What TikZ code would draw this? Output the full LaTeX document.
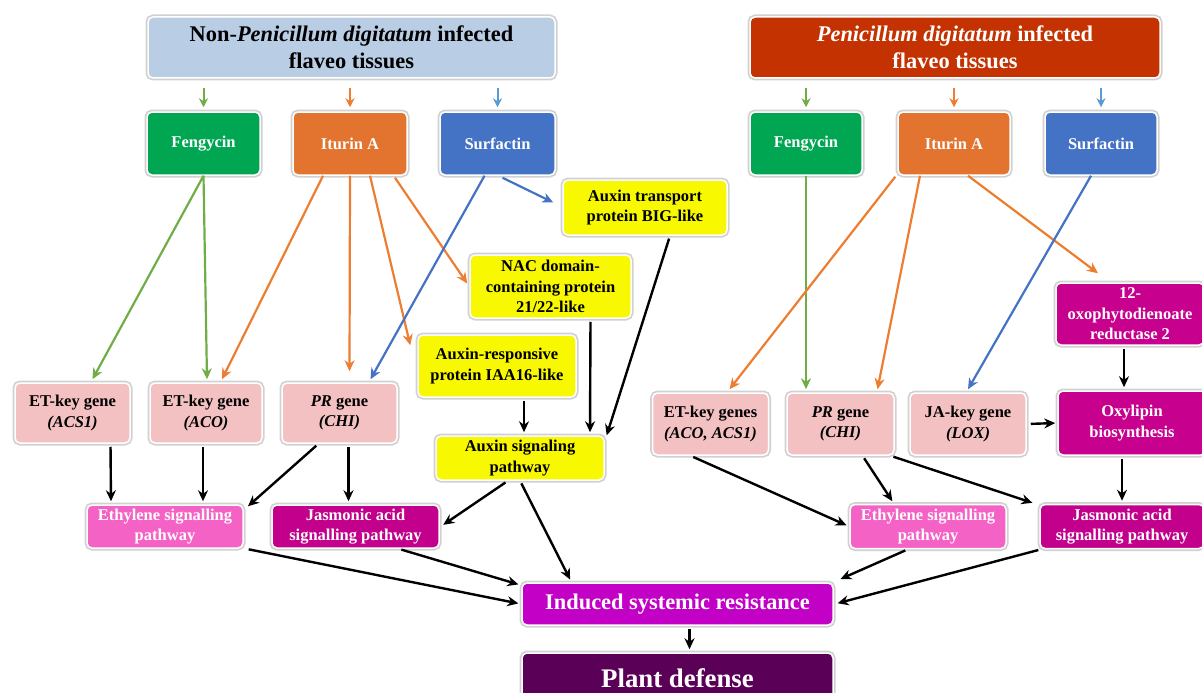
\documentclass[tikz,border=0pt]{standalone}
\usepackage{fontspec}
\setmainfont{Liberation Serif}
\usetikzlibrary{arrows.meta}
\definecolor{hLc}{HTML}{B9CDE5}
\definecolor{hRc}{HTML}{C33200}
\definecolor{fengc}{HTML}{00A651}
\definecolor{iturc}{HTML}{E27430}
\definecolor{surfc}{HTML}{4472C4}
\definecolor{yelc}{HTML}{F8F800}
\definecolor{genec}{HTML}{F4C1C3}
\definecolor{ethc}{HTML}{F562C6}
\definecolor{jac}{HTML}{C3008C}
\definecolor{oxyc}{HTML}{C7008E}
\definecolor{isrc}{HTML}{C300C6}
\definecolor{pdc}{HTML}{5B0057}
\definecolor{agreen}{HTML}{70AD47}
\definecolor{aorange}{HTML}{ED7D31}
\definecolor{ablue}{HTML}{4472C4}
\definecolor{alblue}{HTML}{5B9BD5}
\begin{document}
\begin{tikzpicture}[x=1pt,y=-1pt,
  box/.style={rounded corners=5pt, align=center, inner sep=2pt,
    font=\bfseries\fontsize{16.5}{20.5}\selectfont,
    draw=white, line width=1.5pt,
    preaction={draw=black!18, line width=5pt}},
  hdr/.style={box, font=\bfseries\fontsize{22.4}{27}\selectfont},
  arr/.style={-{Stealth[length=11pt,width=10pt]}, line width=2.4pt},
  blk/.style={arr, black, shorten >=3pt, shorten <=3pt},
  grn/.style={arr, agreen, line width=2.2pt},
  org/.style={arr, aorange, line width=2.2pt},
  blu/.style={arr, ablue, line width=2.2pt},
]
\useasboundingbox (0,0) rectangle (1202,693);

% headers
\node[hdr, fill=hLc, text=black, minimum width=407pt, minimum height=61pt] (hL) at (351.5,47.5)
  {Non-\textit{Penicillum digitatum} infected\\flaveo tissues};
\node[hdr, fill=hRc, text=white, minimum width=410pt, minimum height=61pt] (hR) at (955,47.5)
  {\textit{Penicillum digitatum} infected\\flaveo tissues};

% row 2
\node[box, fill=fengc, text=white, minimum width=113pt, minimum height=63pt] (fenL) at (203.5,143.5) {Fengycin};
\node[box, fill=iturc, text=white, minimum width=114pt, minimum height=63pt] (itL) at (350,143.5) {Iturin A};
\node[box, fill=surfc, text=white, minimum width=115pt, minimum height=63pt] (surL) at (497.5,143.5) {Surfactin};
\node[box, fill=fengc, text=white, minimum width=112pt, minimum height=63pt] (fenR) at (806,143.5) {Fengycin};
\node[box, fill=iturc, text=white, minimum width=112pt, minimum height=63pt] (itR) at (954,143.5) {Iturin A};
\node[box, fill=surfc, text=white, minimum width=112pt, minimum height=63pt] (surR) at (1101,143.5) {Surfactin};

% yellow
\node[box, fill=yelc, text=black, minimum width=164pt, minimum height=55pt] (big) at (645,207.5) {Auxin transport\\protein BIG-like};
\node[box, fill=yelc, text=black, minimum width=161pt, minimum height=63pt] (nac) at (550.5,286.5) {NAC domain-\\containing protein\\21/22-like};
\node[box, fill=yelc, text=black, minimum width=158pt, minimum height=62pt] (iaa) at (497,366) {Auxin-responsive\\protein IAA16-like};
\node[box, fill=yelc, text=black, minimum width=168pt, minimum height=44pt] (aux) at (520,458) {Auxin signaling\\pathway};

% left genes
\node[box, fill=genec, text=black, minimum width=115pt, minimum height=60pt] (acs1) at (72.5,413) {ET-key gene\\\textit{(ACS1)}};
\node[box, fill=genec, text=black, minimum width=112pt, minimum height=60pt] (aco) at (206,413) {ET-key gene\\\textit{(ACO)}};
\node[box, fill=genec, text=black, minimum width=115pt, minimum height=60pt] (chiL) at (339.5,413) {\textit{PR} gene\\\textit{(CHI)}};

\node[box, fill=ethc, text=white, minimum width=156pt, minimum height=43pt] (ethL) at (165,526.5) {Ethylene signalling\\pathway};
\node[box, fill=jac, text=white, minimum width=167pt, minimum height=43pt] (jaL) at (355.5,526.5) {Jasmonic acid\\signalling pathway};

% bottom
\node[box, fill=isrc, text=white, minimum width=311pt, minimum height=42pt, font=\bfseries\fontsize{22.4}{26}\selectfont] (isr) at (677.5,604) {Induced systemic resistance};
\node[box, fill=pdc, text=white, minimum width=311pt, minimum height=50pt, font=\bfseries\fontsize{26.8}{30}\selectfont] (pd) at (677.5,678) {Plant defense};

% right
\node[box, fill=oxyc, text=white, minimum width=148pt, minimum height=62pt] (oxo) at (1130,314) {12-\\oxophytodienoate\\reductase 2};
\node[box, fill=oxyc, text=white, minimum width=148pt, minimum height=64pt] (oxy) at (1132,423) {Oxylipin\\biosynthesis};
\node[box, fill=genec, text=black, minimum width=116pt, minimum height=62pt] (etR) at (710.5,424) {ET-key genes\\\textit{(ACO, ACS1)}};
\node[box, fill=genec, text=black, minimum width=107pt, minimum height=62pt] (chiR) at (840.5,424) {\textit{PR} gene\\\textit{(CHI)}};
\node[box, fill=genec, text=black, minimum width=116pt, minimum height=62pt] (loxR) at (968,424) {JA-key gene\\\textit{(LOX)}};
\node[box, fill=ethc, text=white, minimum width=156pt, minimum height=44pt] (ethR) at (928,526.5) {Ethylene signalling\\pathway};
\node[box, fill=jac, text=white, minimum width=164pt, minimum height=44pt] (jaR) at (1122,526.5) {Jasmonic acid\\signalling pathway};

% header arrows
\foreach \n/\c in {fenL/agreen, itL/aorange, surL/alblue, fenR/agreen, itR/aorange, surR/alblue}{
  \draw[arr, \c, line width=2pt, -{Stealth[length=9pt,width=9pt]}, shorten <=9pt, shorten >=4pt]
    (\n.north |- hL.south) -- (\n.north);
}

% left colored arrows
\draw[grn] (fenL.south) -- ([xshift=20pt,yshift=3pt]acs1.north);
\draw[grn] (fenL.south) -- ([xshift=1pt,yshift=3pt]aco.north);
\draw[org] ([xshift=-27pt]itL.south) -- ([xshift=16pt,yshift=3pt]aco.north);
\draw[org] (itL.south) -- ([xshift=10pt,yshift=11pt]chiL.north);
\draw[org] ([xshift=20pt]itL.south) -- ([xshift=-7pt,yshift=-11pt]iaa.north west);
\draw[org] ([xshift=45pt,yshift=-2pt]itL.south) -- ([xshift=-2pt,yshift=3pt]nac.west);
\draw[blu] ([xshift=-13pt]surL.south) -- ([xshift=31pt,yshift=3pt]chiL.north);
\draw[blu] ([xshift=5pt,yshift=-2pt]surL.south) -- ([xshift=-9pt,yshift=5pt]big.west);

% yellow arrows
\draw[blk] ([xshift=25pt]big.south) -- ([xshift=1pt,yshift=-3pt]aux.north east);
\draw[blk] ([xshift=40pt]nac.south) -- ([xshift=70pt]aux.north);
\draw[blk] ([xshift=27pt]iaa.south) -- ([xshift=4pt]aux.north);

% left lower
\draw[blk] ([xshift=38pt]acs1.south) -- ([xshift=-54pt]ethL.north);
\draw[blk] ([xshift=-3pt]aco.south) -- ([xshift=38pt]ethL.north);
\draw[blk] ([xshift=-21pt]chiL.south) -- ([xshift=2pt,yshift=-4pt]ethL.north east);
\draw[blk] ([xshift=9pt]chiL.south) -- ([xshift=-7pt]jaL.north);
\draw[blk] ([xshift=-12pt]aux.south) -- ([xshift=1pt]jaL.east);
\draw[blk] (aux.south) -- ([xshift=-106pt]isr.north);
\draw[blk] ([xshift=2pt]ethL.south east) -- (isr.west);
\draw[blk] ([xshift=43pt]jaL.south) -- ([yshift=-3pt]isr.north west);
\draw[blk] ([xshift=12pt]isr.south) -- ([xshift=12pt]pd.north);

% right colored arrows
\draw[grn] (fenR.south) -- ([xshift=-34.5pt,yshift=3pt]chiR.north);
\draw[org] ([xshift=-2pt,yshift=-1pt]itR.south west) -- ([xshift=19pt,yshift=3pt]etR.north);
\draw[org] ([xshift=-34pt]itR.south) -- ([xshift=37pt,yshift=3pt]chiR.north);
\draw[org] ([xshift=14pt]itR.south) -- ([xshift=-32pt,yshift=9pt]oxo.north);
\draw[blu] ([xshift=-10pt]surR.south) -- ([yshift=3pt]loxR.north);

% right black arrows
\draw[blk] ([xshift=-6pt]oxo.south) -- ([xshift=-8pt]oxy.north);
\draw[blk, shorten <=4pt, shorten >=2pt] (loxR.east) -- (oxy.west);
\draw[blk] ([xshift=-20pt]etR.south) -- (ethR.west);
\draw[blk] ([xshift=22pt]chiR.south) -- ([xshift=-34pt]ethR.north);
\draw[blk] ([xshift=50pt]chiR.south) -- ([xshift=-4pt]jaR.north west);
\draw[blk] ([xshift=-10pt]oxy.south) -- (jaR.north);
\draw[blk] ([xshift=-20pt]ethR.south) -- ([xshift=4pt,yshift=2pt]isr.north east);
\draw[blk] ([xshift=2pt]jaR.south west) -- ([xshift=1pt]isr.east);
\end{tikzpicture}
\end{document}
